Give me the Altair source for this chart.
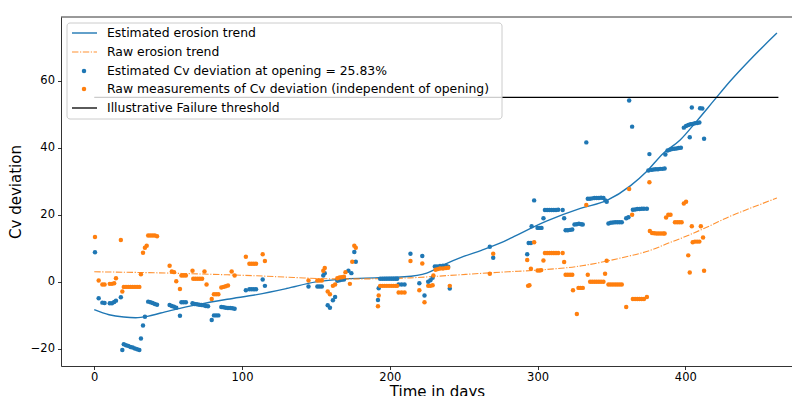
import altair as alt
import pandas as pd

# ---- data ----
# Estimated Cv deviation (blue dots): (day, value)
est_points = [
    (0.5, 8.8), (3, -4.9), (5.5, -6.2), (7, -6.3), (10.5, -6.4), (12, -6.4), (13.5, -6.0), (14.7, -5.6), (18, -4.6),
    (19, -20.3), (20, -18.6), (21.5, -18.9), (23, -19.1), (24.5, -19.4), (26, -19.6), (27.5, -19.9), (29, -20.1), (30.5, -20.3),
    (31.6, -16.9), (33, -13.0), (34.3, -10.4), (36.5, -5.9), (38, -6.1), (39.5, -6.3), (41, -6.6), (42.5, -6.8),
    (51, -6.9), (52.5, -7.2), (54, -7.4), (55.5, -7.7), (58, -10.1), (59, -6.1), (60.5, -6.1), (62, -6.1),
    (66.5, -6.4), (68, -6.6), (69.5, -6.7), (71, -6.8), (72.5, -6.9), (74, -7.0), (75.5, -7.2), (77, -7.3),
    (79.5, -11.4), (81, -10.0), (82.5, -10.0), (84, -10.0), (86, -7.5), (87.5, -7.6), (89, -7.7), (90.5, -7.8),
    (92, -7.8), (93.5, -7.9), (95, -8.0),
    (102.6, -2.5), (105, -2.2), (106.5, -2.2), (108, -2.2), (109.5, -2.2), (114, 0.7), (115.5, -1.2),
    (145, -1.4), (151, -1.4), (152.5, -1.4), (154, -1.4), (155, 1.9), (156, 2.6), (158, -7.0), (159.5, -7.7),
    (161.5, -5.5), (163, -4.5), (164.5, 0.3), (166, 0.5), (167.5, 0.6), (169, 0.7), (172, 3.3), (174, 2.6),
    (176, 8.9), (177, 6.0),
    (192, -5.4), (192.5, -1.9), (193.5, 0.9), (195, 0.9), (196.5, 0.9), (198, 0.9), (199.5, 0.9), (201, 0.9),
    (202.5, 0.9), (204, 0.9), (205, 0.9), (206, -0.8), (208, -0.8), (210, -0.8), (214, 8.4), (220, -0.4),
    (222, 7.7), (223.5, -4.1), (226, 0.0), (227.5, 0.5), (229, 1.2), (230.5, 4.6), (232, 4.6), (234, 4.7),
    (236, 4.8), (238, 4.8), (239.5, 4.5), (240.6, -2.0),
    (267.7, 10.5), (270, 7.2), (293, 8.2), (294, 11.6), (295.5, 11.6), (296, 16.6), (297.7, 24.3),
    (300, 16.1), (301.5, 16.1), (302.7, 16.1), (304, 19.0),
    (305, 21.4), (306.5, 21.4), (308, 21.4), (309.5, 21.4), (311, 21.4), (312.5, 21.4), (314, 21.5), (317, 21.4),
    (318, 19.0), (319, 15.4), (320.5, 15.4), (322, 15.5), (323.5, 15.6), (325, 17.1), (326.5, 17.2), (328, 17.3),
    (329.5, 17.2), (330.6, 17.1), (333, 41.6), (334, 24.8), (335.5, 24.8), (337, 24.9), (338.5, 25.0), (340, 25.0),
    (341.5, 25.0), (343, 25.1), (344.6, 25.0), (346, 24.3), (346.8, 23.9), (348, 17.4), (349.5, 17.6), (351, 17.7),
    (352.5, 17.8), (354, 17.8), (355.5, 17.8), (357, 17.8),
    (360, 19.0), (361.5, 19.3), (362, 54.1), (364, 46.3), (364.5, 21.5), (366, 21.6), (367.5, 21.7), (369, 21.7),
    (370.5, 21.8), (372, 21.8), (374, 21.8), (375.7, 38.1), (375, 33.2), (377, 33.4), (378.5, 33.5), (380, 33.6),
    (381.5, 33.6), (383, 33.7), (384.5, 33.7), (386, 33.8), (386.5, 38.0), (388, 39.2), (389.5, 39.4), (391, 39.6),
    (392.5, 39.7), (394, 39.8), (395.5, 39.9), (397, 40.0), (399, 46.0), (400.5, 46.5), (402, 46.8), (403, 43.1),
    (403.5, 47.0), (405, 47.1), (406.5, 47.3), (408, 47.4), (409.5, 47.5), (404.4, 52.0), (410, 51.8),
    (411.5, 51.7), (412.7, 42.7),
]

# Raw measurements (orange dots): (day, value)
raw_points = [
    (0.5, 13.4), (3, 0.4), (5.5, -0.8), (7, -0.8), (10.5, -0.6), (12, -0.6), (13.5, -0.4), (14.7, 1.1), (18, 12.5),
    (19, -2.9), (20, -1.5), (21.5, -1.5), (23, -1.5), (24.5, -1.5), (26, -1.5), (27.5, -1.5), (29, -1.5), (30.5, -1.5),
    (31.6, 2.3), (33, 8.7), (34.3, 10.2), (35.5, 10.8), (36.5, 13.8), (38, 13.8), (39.5, 13.8), (41, 13.8), (42.5, 13.6),
    (51, 4.8), (52.5, 3.1), (54, 2.9), (55.5, 0.2), (58, -2.1), (59, 1.9), (60.5, 1.9), (62, 1.9),
    (66.5, 3.3), (67, 0.9), (68.5, 0.9), (70, 0.9), (71.5, 0.9), (73, 0.9), (74.6, 3.1), (76, -0.8),
    (79.5, -5.1), (81, -3.7), (82.5, -3.7), (84, -3.7), (86, -1.7), (87.5, -1.5), (89, -1.3), (90.5, -1.1),
    (93, 3.1), (95, 1.9),
    (102.6, 7.5), (105, 5.4), (106.5, 5.4), (108, 5.4), (109.5, 5.4), (114, 8.2), (115.5, 6.2),
    (145, 0.4), (151, 0.4), (152.5, 0.4), (154, 0.4), (155, 3.3), (156, 4.1), (158, -2.9), (159.5, -3.7),
    (161.5, -1.2), (163, -0.8), (164.5, 1.1), (166, 1.3), (167.5, 1.4), (169, 1.5), (170, 2.9), (173, -0.6),
    (174.6, 6.0), (176, 10.8), (177, 10.2),
    (192, -7.3), (192.5, -4.1), (193.5, -1.2), (195, -1.2), (196.5, -1.2), (198, -1.2), (199.5, -1.2), (201, -1.2),
    (202.5, -1.2), (204, -1.2), (205, -1.2), (206, -3.2), (208, -3.2), (210, -3.2), (214, 6.2), (220, -2.5),
    (222, 5.5), (223.5, -6.1), (226, -1.2), (227.5, -1.2), (229, -1.0), (229.5, 1.9), (231, 3.6), (232.5, 3.8),
    (234, 4.0), (236, 4.0), (238, 4.1), (239.5, 4.2), (240.6, -1.2),
    (267.7, 2.4), (270, 8.4), (293, 6.5), (293.6, -1.2), (294.5, -1.0), (295.5, 3.9), (297.7, 11.8),
    (300, 3.4), (301.5, 3.4), (302.5, 3.5), (304, 6.4),
    (305, 8.6), (306.5, 8.6), (308, 8.6), (309.5, 8.6), (311, 8.6), (312.5, 8.6), (314, 8.6), (317, 8.6),
    (318, 5.9), (319, 2.1), (320.5, 2.1), (322, 2.1), (323.5, 2.1), (324, -2.5), (326.6, -9.6), (327.7, -1.8),
    (329, -1.8), (330.6, -1.8), (333, 22.9), (334, 2.1), (335.6, 0.0), (337, 0.0), (338.5, 0.0), (340, 0.0),
    (341.5, 0.0), (343, 0.0), (344.6, 0.0), (345.7, 2.4), (346.8, 6.3), (348, -0.8), (349.5, -0.8), (351, -0.8),
    (352.5, -0.8), (354, -0.8), (355.5, -0.8), (357, -0.8),
    (360, -7.5), (362, 27.7), (364, 20.0), (364.5, -5.1), (366, -5.1), (367.5, -5.1), (369, -5.1), (370.5, -5.1),
    (372, -5.1), (374, -4.5), (375.7, 29.7), (376, 15.2), (377.5, 14.6), (379, 14.5), (380.5, 14.4), (382, 14.4),
    (383.5, 14.4), (385, 14.4), (386, 14.4), (387, 19.2), (388.5, 20.0), (390, 20.0), (393, 17.8), (394.5, 17.8),
    (396, 17.8), (397.5, 17.8), (399, 23.4), (400.5, 23.9), (402, 7.9), (403, 2.8), (404.4, 16.6), (405, 11.8),
    (406.5, 12.0), (408, 12.0), (409.5, 12.0), (410.5, 16.6), (412, 13.2), (412.7, 3.3),
]

# Trend curves
trend_est_days = [0, 10, 20, 28, 36, 45, 55, 70, 90, 110, 130, 150, 170, 190, 210, 225, 236, 250, 262,
                  275, 283, 306, 329, 347, 363, 374, 385, 396.5, 408, 419, 430, 445, 462]
trend_est_vals = [-8.3, -9.8, -10.5, -10.7, -10.3, -9.3, -8.2, -6.8, -5.2, -3.8, -2.0, 0.0, 0.9, 1.2, 1.5,
                  2.6, 5.0, 7.6, 9.4, 11.6, 13.3, 18.1, 21.9, 24.3, 28.7, 33.0, 38.3, 42.3, 48.1, 53.9,
                  59.7, 66.8, 74.2]
trend_raw_days = [0, 30, 60, 90, 110, 135, 160, 185, 214, 240, 261, 280, 300, 330, 347, 360, 375, 390,
                  400, 417, 430, 446, 462]
trend_raw_vals = [3.0, 2.8, 2.5, 2.1, 1.8, 1.3, 0.9, 0.9, 1.2, 1.9, 2.5, 3.0, 3.5, 4.8, 6.2, 7.5, 9.2,
                  11.8, 13.5, 16.8, 19.5, 22.3, 25.0]

threshold_days = [0, 463]
threshold_vals = [55, 55]

x_ticks = [0, 100, 200, 300, 400]
y_ticks = [-20, 0, 20, 40, 60]

legend_labels = [
    "Estimated erosion trend",
    "Raw erosion trend",
    "Estimated Cv deviation at opening = 25.83%",
    "Raw measurements of Cv deviation (independent of opening)",
    "Illustrative Failure threshold",
]

BLUE = "#1f77b4"
ORANGE = "#ff7f0e"
FONT = "DejaVu Sans"

W, H = 731, 349
TOP = 9
BOTTOM = 388 - TOP - H

est_df = pd.DataFrame(est_points, columns=["day", "cv"])
raw_df = pd.DataFrame(raw_points, columns=["day", "cv"])
te_df = pd.DataFrame({"day": trend_est_days, "cv": trend_est_vals})
tr_df = pd.DataFrame({"day": trend_raw_days, "cv": trend_raw_vals})
th_df = pd.DataFrame({"day": threshold_days, "cv": threshold_vals})

xs = alt.Scale(domain=[-22.5, 472.2], nice=False, zero=False)
ys = alt.Scale(domain=[-25.1, 79.0], nice=False, zero=False)

X = alt.X("day:Q", scale=xs, axis=alt.Axis(values=x_ticks, title="Time in days",
                                           titleX=376, titleY=30, titleBaseline="alphabetic",
                                           titleAlign="center"))
Y = alt.Y("cv:Q", scale=ys, axis=alt.Axis(values=y_ticks, title="Cv deviation"))

trend_est = alt.Chart(te_df).mark_line(color=BLUE, strokeWidth=1.4, interpolate="monotone").encode(x=X, y=Y)
trend_raw = alt.Chart(tr_df).mark_line(color=ORANGE, strokeWidth=1.1, opacity=0.85,
                                       strokeDash=[6.4, 1.6, 1.2, 1.6], interpolate="monotone").encode(x=X, y=Y)
pts_est = alt.Chart(est_df).mark_circle(color=BLUE, size=20, opacity=1).encode(x=X, y=Y)
pts_raw = alt.Chart(raw_df).mark_circle(color=ORANGE, size=20, opacity=1).encode(x=X, y=Y)
thresh = alt.Chart(th_df).mark_line(color="black", strokeWidth=1.3).encode(x=X, y=Y)

one = pd.DataFrame({"k": [0]})
top_spine = alt.Chart(one).mark_rule(color="black", strokeWidth=0.8).encode(
    x=alt.value(0), x2=alt.value(W), y=alt.value(0))

# legend (pixel offsets from the plot's top-left corner)
leg_box = alt.Chart(one).mark_rect(fill="white", fillOpacity=0.8, stroke="#cccccc", strokeWidth=1,
                                   cornerRadius=3).encode(
    x=alt.value(6), x2=alt.value(441), y=alt.value(6), y2=alt.value(102))
row_y = [16, 35, 54, 72, 91]
leg_l1 = alt.Chart(one).mark_rule(color=BLUE, strokeWidth=1.4).encode(
    x=alt.value(11), x2=alt.value(36), y=alt.value(row_y[0]))
leg_l2 = alt.Chart(one).mark_rule(color=ORANGE, strokeWidth=1.1, opacity=0.85,
                                  strokeDash=[6.4, 1.6, 1.2, 1.6]).encode(
    x=alt.value(11), x2=alt.value(36), y=alt.value(row_y[1]))
leg_p3 = alt.Chart(one).mark_circle(color=BLUE, size=20, opacity=1).encode(
    x=alt.value(23), y=alt.value(row_y[2]))
leg_p4 = alt.Chart(one).mark_circle(color=ORANGE, size=20, opacity=1).encode(
    x=alt.value(23), y=alt.value(row_y[3]))
leg_l5 = alt.Chart(one).mark_rule(color="black", strokeWidth=1.3).encode(
    x=alt.value(11), x2=alt.value(36), y=alt.value(row_y[4]))
leg_texts = [
    alt.Chart(one).mark_text(align="left", baseline="middle", font=FONT, fontSize=12.4,
                             color="black").encode(x=alt.value(46), y=alt.value(yy), text=alt.value(lbl))
    for lbl, yy in zip(legend_labels, row_y)
]

chart = alt.layer(
    trend_est, trend_raw, pts_est, pts_raw, thresh, top_spine,
    leg_box, leg_l1, leg_l2, leg_p3, leg_p4, leg_l5, *leg_texts
).properties(
    width=W, height=H,
    autosize=alt.AutoSizeParams(type="none"),
    padding={"left": 53, "top": TOP, "right": 0, "bottom": BOTTOM},
    background="white",
).configure_view(
    stroke=None
).configure_axis(
    grid=False,
    labelFont=FONT, labelFontSize=11.5, labelColor="black",
    titleFont=FONT, titleFontSize=15, titleFontWeight="normal", titleColor="black",
    domainColor="black", domainWidth=0.8,
    tickColor="black", tickWidth=0.8, tickSize=3.5,
    labelPadding=2,
).configure_axisY(
    titlePadding=7, labelPadding=3
)

chart.save("out.html", embed_options={"renderer": "svg", "actions": False})
